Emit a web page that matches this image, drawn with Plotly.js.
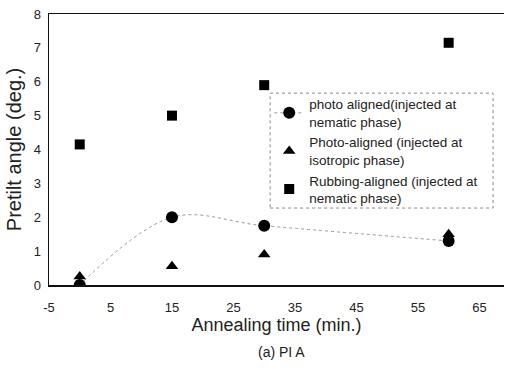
<!DOCTYPE html>
<html><head><meta charset="utf-8">
<script src="https://cdn.plot.ly/plotly-3.0.1.min.js"></script>
<style>html,body{margin:0;padding:0;background:#fff}#c{width:505px;height:371px}</style>
</head><body><div id="c"></div>
<script>
const times = [0, 15, 30, 60];
const photoNematic = [0, 2.0, 1.75, 1.3];
const photoIsotropic = [0.25, 0.55, 0.9, 1.5];
const rubbingNematic = [4.15, 5.0, 5.9, 7.15];
const names = [
  'photo aligned(injected at<br>nematic phase)',
  'Photo-aligned (injected at<br>isotropic phase)',
  'Rubbing-aligned (injected at<br>nematic phase)'
];
const xTicks = [-5, 5, 15, 25, 35, 45, 55, 65];
const yTicks = [0, 1, 2, 3, 4, 5, 6, 7, 8];
const F = '"Liberation Sans", Arial, sans-serif';

const traces = [
  {x: times, y: photoNematic, name: names[0], mode: 'lines+markers', type: 'scatter',
   line: {color: '#999', width: 1, dash: 'dot', shape: 'spline'},
   marker: {symbol: 'circle', size: 12, color: '#000'}},
  {x: times, y: photoIsotropic, name: names[1], mode: 'markers', type: 'scatter',
   marker: {symbol: 'triangle-up', size: 11, color: '#000'}},
  {x: times, y: rubbingNematic, name: names[2], mode: 'markers', type: 'scatter',
   marker: {symbol: 'square', size: 10, color: '#000'}}
];

const layout = {
  width: 505, height: 371,
  margin: {l: 49, r: 1, t: 14, b: 86},
  paper_bgcolor: '#fff', plot_bgcolor: '#fff',
  font: {family: F, color: '#222', size: 12},
  showlegend: true,
  legend: {x: 0.484, y: 0.724, xanchor: 'left', yanchor: 'top',
    bgcolor: 'rgba(255,255,255,0)', borderwidth: 0,
    font: {family: F, size: 13.5, color: '#222'}, tracegroupgap: 0, itemwidth: 30},
  xaxis: {range: [-5, 69], tickvals: xTicks, ticktext: xTicks.map(String),
    showgrid: false, zeroline: false, showline: true, linecolor: '#111', linewidth: 1.5,
    mirror: true, ticks: '', ticklabelstandoff: 10, tickfont: {size: 13, family: F},
    title: {text: 'Annealing time (min.)', font: {size: 18, family: F}, standoff: 4}},
  yaxis: {range: [0, 8], tickvals: yTicks, showgrid: false, zeroline: false,
    showline: true, linecolor: '#111', linewidth: 1.5, ticks: '', ticklabelstandoff: 4,
    tickfont: {size: 13, family: F},
    title: {text: 'Pretilt angle (deg.)', font: {size: 20, family: F}, standoff: 6}},
  shapes: [
    {type: 'rect', xref: 'paper', yref: 'paper', x0: 0.486, x1: 0.976, y0: 0.284, y1: 0.708,
     line: {color: '#888', width: 1, dash: 'dot'}}
  ],
  annotations: [
    {text: '(a) PI A', xref: 'paper', yref: 'paper', x: 0.51, y: -0.247, showarrow: false,
     xanchor: 'center', yanchor: 'middle', font: {size: 14, family: F, color: '#222'}}
  ]
};
Plotly.newPlot('c', traces, layout, {displayModeBar: false, staticPlot: true});
</script></body></html>
